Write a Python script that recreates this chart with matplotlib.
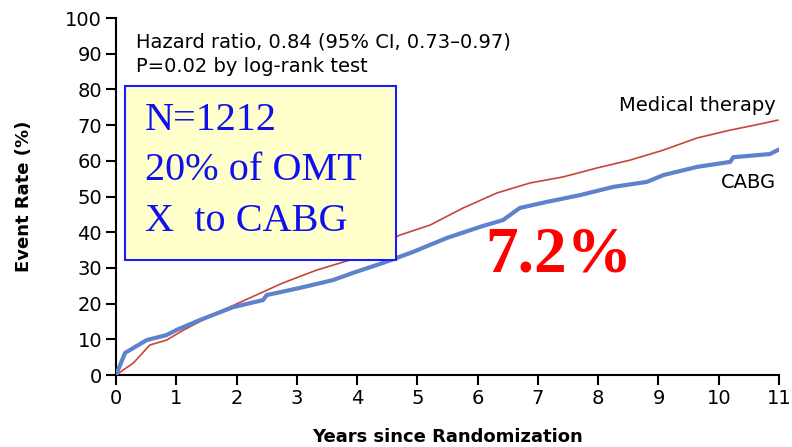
import matplotlib
matplotlib.use("Agg")
import matplotlib.pyplot as plt
from matplotlib.patches import Rectangle

# values (years, event rate %)
med_years = [0, 0.29, 0.56, 0.84, 1.12, 1.67, 2.22, 2.77, 3.33, 3.88, 4.71, 5.21,
             5.76, 6.32, 6.87, 7.42, 7.98, 8.53, 9.08, 9.64, 10.19, 10.6, 10.98]
med_rate = [0, 3.4, 8.4, 9.8, 12.6, 17.4, 21.6, 25.8, 29.4, 32.2, 39.2, 42.0,
            46.8, 51.0, 53.8, 55.5, 58.0, 60.2, 63.0, 66.4, 68.6, 70.0, 71.4]

cabg_years = [0, 0.15, 0.29, 0.51, 0.84, 1.0, 1.39, 1.94, 2.44, 2.5, 3.05, 3.6,
              3.93, 4.43, 4.93, 5.49, 6.04, 6.42, 6.7, 7.15, 7.7, 8.25, 8.81,
              9.08, 9.64, 10.19, 10.24, 10.85, 10.98]
cabg_rate = [0, 6.2, 7.6, 9.8, 11.2, 12.6, 15.4, 19.0, 21.0, 22.4, 24.4, 26.6,
             28.6, 31.4, 34.5, 38.4, 41.5, 43.4, 46.8, 48.5, 50.4, 52.7, 54.1,
             56.0, 58.3, 59.7, 61.0, 61.9, 63.0]

x_ticks = list(range(0, 12))
y_ticks = list(range(0, 101, 10))

plt.rcParams['font.family'] = ['DejaVu Sans']

fig = plt.figure(figsize=(7.92, 4.47), dpi=100)
ax = fig.add_axes([0.1465, 0.161, 0.8371, 0.7987])

ax.plot(med_years, med_rate, color='#c8453a', lw=1.2, zorder=3)
ax.plot(cabg_years, cabg_rate, color='#5f82cc', lw=3.0, zorder=4)

ax.set_xlim(0, 11)
ax.set_ylim(0, 100)
ax.set_xticks(x_ticks)
ax.set_yticks(y_ticks)
ax.tick_params(direction='out', length=7, width=1.5, labelsize=14, pad=3)
for s in ['top', 'right']:
    ax.spines[s].set_visible(False)
for s in ['left', 'bottom']:
    ax.spines[s].set_linewidth(1.5)

ax.set_ylabel('Event Rate (%)', fontsize=13, fontweight='bold')
ax.yaxis.set_label_coords(-0.125, 0.5)
ax.set_xlabel('Years since Randomization', fontsize=13, fontweight='bold')
ax.xaxis.set_label_coords(0.5, -0.148)

ax.text(0.33, 93.3, 'Hazard ratio, 0.84 (95% CI, 0.73\u20130.97)', fontsize=14, va='center')
ax.text(0.33, 86.3, 'P=0.02 by log-rank test', fontsize=14, va='center')

ax.text(10.95, 75.5, 'Medical therapy', fontsize=14, ha='right', va='center')
ax.text(10.95, 54, 'CABG', fontsize=14, ha='right', va='center')

# yellow callout box
box = Rectangle((0.15, 32.2), 4.5, 48.8, facecolor='#ffffcc', edgecolor='#1a1aff',
                lw=1.5, zorder=5)
ax.add_patch(box)
for i, line in enumerate(['N=1212', '20% of OMT', 'X  to CABG']):
    ax.text(0.48, 71.4 - i * 14.2, line, family='Liberation Serif', fontsize=29,
            color='#1010ee', va='center', zorder=6)

ax.text(7.35, 33.6, '7.2%', family='Liberation Serif', fontsize=47, fontweight='bold',
        color='#ff0000', ha='center', va='center', zorder=6)

fig.savefig('out.png', dpi=100)
